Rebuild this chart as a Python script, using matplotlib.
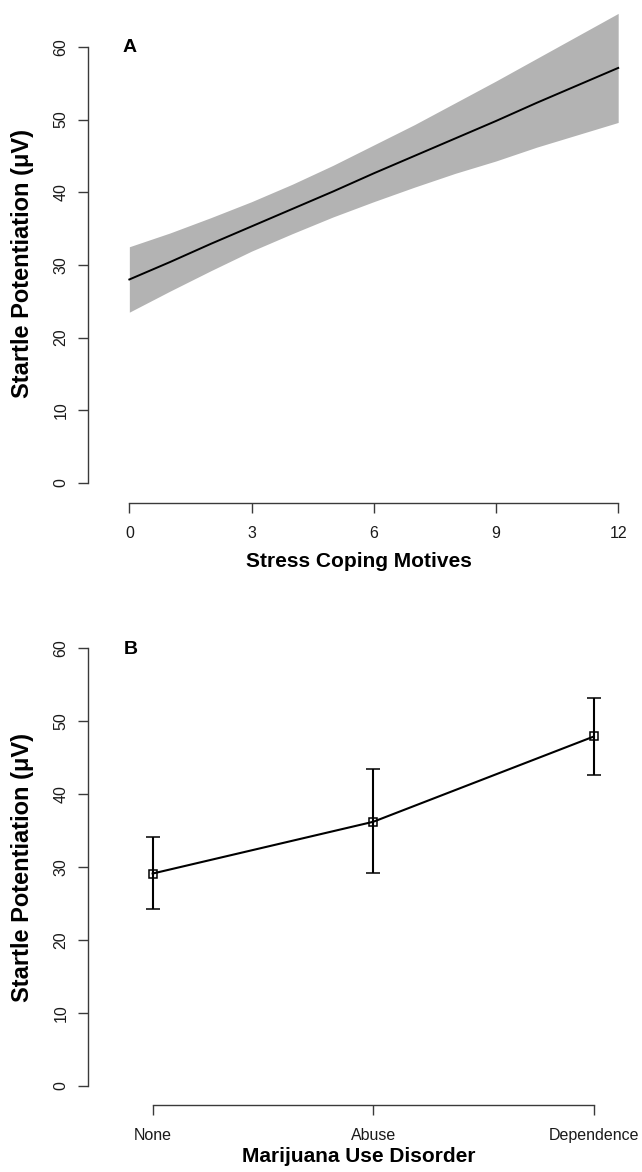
import matplotlib
matplotlib.use("Agg")
import matplotlib.pyplot as plt

plt.rcParams['font.family'] = ['Liberation Sans', 'DejaVu Sans']

# ---------------- data ----------------
# Panel A: fitted line with confidence band
motives = [0, 1, 2, 3, 4, 5, 6, 7, 8, 9, 10, 11, 12]
fit_line = [28.0, 30.4, 32.9, 35.3, 37.7, 40.1, 42.6, 45.0, 47.4, 49.8, 52.3, 54.7, 57.1]
ci_upper = [32.5, 34.4, 36.5, 38.7, 41.1, 43.7, 46.5, 49.3, 52.3, 55.3, 58.4, 61.5, 64.6]
ci_lower = [23.5, 26.4, 29.2, 31.9, 34.3, 36.6, 38.7, 40.7, 42.6, 44.3, 46.2, 47.9, 49.6]
a_xticks = [0, 3, 6, 9, 12]
y_ticks = [0, 10, 20, 30, 40, 50, 60]

# Panel B: group means with error bars
groups = ['None', 'Abuse', 'Dependence']
group_pos = [1, 2, 3]
means = [29.1, 36.2, 47.9]
err_upper = [34.1, 43.4, 53.2]
err_lower = [24.2, 29.2, 42.6]

ylabel_txt = 'Startle Potentiation (\u03bcV)'

# ---------------- figure ----------------
W, H = 642, 1172
fig = plt.figure(figsize=(W / 100, H / 100), dpi=100)


def px_axes(left, top, right, bottom):
    return fig.add_axes([left / W, 1 - bottom / H, (right - left) / W, (bottom - top) / H])


axis_col = '#3a3a3a'


def style(ax, xb):
    for s in ['top', 'right']:
        ax.spines[s].set_visible(False)
    for s in ['left', 'bottom']:
        ax.spines[s].set_color(axis_col)
        ax.spines[s].set_linewidth(1.0)
    ax.spines['left'].set_bounds(0, 60)
    ax.spines['bottom'].set_bounds(*xb)
    ax.set_yticks(y_ticks)
    ax.tick_params(axis='both', length=7, width=1.0, color=axis_col,
                   labelsize=11.5, labelcolor='#1a1a1a')
    ax.tick_params(axis='x', pad=10)
    ax.tick_params(axis='y', pad=7)
    for lab in ax.get_yticklabels():
        lab.set_rotation(90)
        lab.set_ha('center')
        lab.set_va('bottom')
        lab.set_rotation_mode('anchor')


# Panel A
axA = px_axes(88, 29.4, 630, 502.7)
axA.fill_between(motives, ci_lower, ci_upper, color='#b3b3b3', linewidth=0, clip_on=False)
axA.plot(motives, fit_line, color='black', lw=1.4, clip_on=False)
axA.set_xlim(-1.015, 12.29)
axA.set_ylim(-2.71, 62.4)
axA.set_xticks(a_xticks)
style(axA, (0, 12))
axA.set_xlabel('Stress Coping Motives', fontsize=15, fontweight='bold', labelpad=8)
fig.text(23 / W, 1 - 264 / H, ylabel_txt, rotation=90, ha='center', va='center',
         fontsize=17, fontweight='bold')
fig.text(130 / W, 1 - 48 / H, 'A', ha='center', va='center', fontsize=14, fontweight='bold')

# Panel B
axB = px_axes(88, 630.8, 630, 1104.7)
m = means
yerr = [[m[i] - err_lower[i] for i in range(3)], [err_upper[i] - m[i] for i in range(3)]]
axB.errorbar(group_pos, means, yerr=yerr, fmt='-s', color='black', lw=1.5,
             elinewidth=1.5, capsize=5, capthick=1.5, ms=5.5, mfc='none', mew=1.1)
axB.set_xlim(0.707, 3.164)
axB.set_ylim(-2.61, 62.4)
axB.set_xticks(group_pos)
axB.set_xticklabels(groups)
style(axB, (1, 3))
axB.set_xlabel('Marijuana Use Disorder', fontsize=15, fontweight='bold', labelpad=3)
fig.text(23 / W, 1 - 867 / H, ylabel_txt, rotation=90, ha='center', va='center',
         fontsize=17, fontweight='bold')
fig.text(130.5 / W, 1 - 649 / H, 'B', ha='center', va='center', fontsize=14, fontweight='bold')

fig.savefig('out.png', dpi=100)
